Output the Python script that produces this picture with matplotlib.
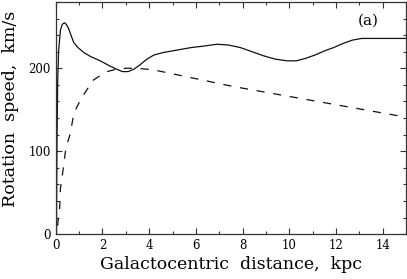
import matplotlib
matplotlib.use("Agg")
import matplotlib.pyplot as plt
from matplotlib.ticker import MultipleLocator

# Total rotation curve (solid)
r_total = [0.03, 0.05, 0.08, 0.12, 0.2, 0.28, 0.37, 0.45, 0.55, 0.65, 0.77, 0.95,
           1.2, 1.5, 1.9, 2.3, 2.6, 2.85, 3.1, 3.35, 3.6, 3.9, 4.2, 4.6, 5.2, 5.8,
           6.4, 6.9, 7.4, 7.9, 8.4, 8.9, 9.4, 9.9, 10.3, 10.7, 11.1, 11.5, 11.9,
           12.3, 12.7, 13.1, 13.4, 15.0]
v_total = [0, 100, 180, 220, 246, 253, 255, 253, 248, 240, 231, 225,
           219, 214, 209, 203, 199, 196, 196, 199, 204, 211, 216, 219, 222, 225,
           227, 229, 228, 225, 220, 215, 211, 209, 209, 212, 216, 221, 225,
           230, 234, 236, 236, 236]

# Component curve (dashed)
r_comp = [0.08, 0.12, 0.17, 0.2, 0.31, 0.41, 0.5, 0.62, 0.77, 0.9, 1.12, 1.4,
          1.62, 1.9, 2.2, 2.6, 3.0, 3.5, 4.2, 7.6, 14.0, 15.0]
v_comp = [10, 22, 33, 55, 77, 99, 110, 121, 145, 153, 165, 177,
          186, 191, 196, 199, 200, 200, 198, 178, 146, 141]

x_ticks = [0, 2, 4, 6, 8, 10, 12, 14]
y_ticks = [0, 100, 200]

fig = plt.figure(figsize=(4.07, 2.79), dpi=100)
ax = fig.add_axes([0.137, 0.161, 0.861, 0.832])
ax.plot(r_total, v_total, color="#111111", lw=0.9)
ax.plot(r_comp, v_comp, color="#111111", lw=0.9, dashes=(6.5, 7))

ax.set_xlim(0, 15)
ax.set_ylim(0, 280)
ax.set_xticks(x_ticks)
ax.set_yticks(y_ticks)
ax.xaxis.set_minor_locator(MultipleLocator(1))
ax.yaxis.set_minor_locator(MultipleLocator(20))
ax.tick_params(which="both", direction="in", top=True, right=True,
               labelsize=8.5, width=0.8, colors="#333333", labelcolor="black")
ax.tick_params(which="major", length=4)
ax.tick_params(which="minor", length=2)
for lab in ax.get_xticklabels() + ax.get_yticklabels():
    lab.set_family("DejaVu Serif")
for s in ax.spines.values():
    s.set_linewidth(0.9)
    s.set_color("#333333")

ax.set_xlabel("Galactocentric  distance,  kpc", family="DejaVu Serif", fontsize=12.5, labelpad=3)
ax.set_ylabel("Rotation  speed,  km/s", family="DejaVu Serif", fontsize=12.5, labelpad=5)
ax.yaxis.set_label_coords(-0.105, 0.54)
ax.text(13.36, 258, "(a)", family="DejaVu Serif", fontsize=11, ha="center", va="center")

fig.savefig("out.png", dpi=100)
